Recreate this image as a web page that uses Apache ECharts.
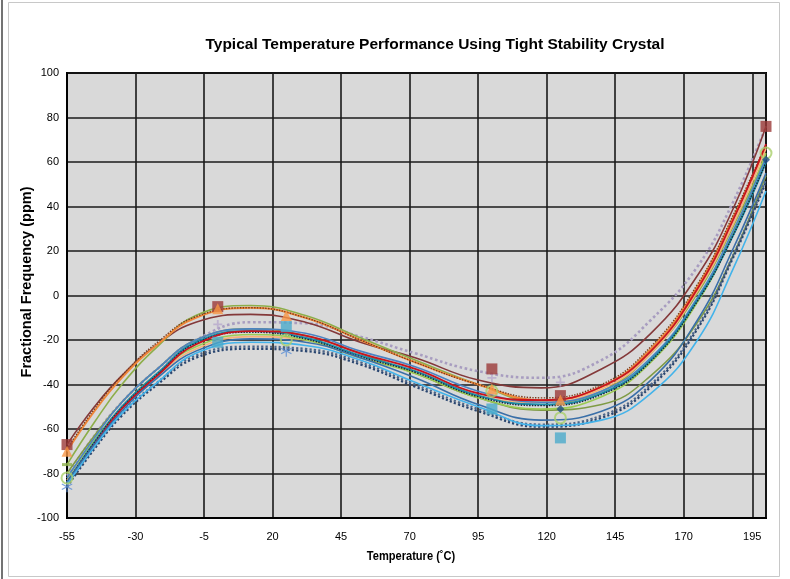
<!DOCTYPE html>
<html>
<head>
<meta charset="utf-8">
<script src="https://cdn.jsdelivr.net/npm/echarts@6/dist/echarts.min.js"></script>
<style>
html,body{margin:0;padding:0;background:#fff;}
#chart{width:790px;height:579px;}
</style>
</head>
<body>
<div id="chart"></div>
<script>
// ---- data ----
const temps = [-55, -45, -35, -22, -8, 12, 32, 52, 72, 95, 118, 140, 158, 175, 188, 200];
const xTickLabels = ['-55','-30','-5','20','45','70','95','120','145','170','195'];
const yTickLabels = ['-100','-80','-60','-40','-20','0','20','40','60','80','100'];

// trend curves (ppm at each temperature in temps)
const brownCurve       = [-67, -50, -36, -22, -12, -8.5, -12, -21, -28, -38, -41.5, -33, -17, 9, 39, 76];
const orangeCurve      = [-70, -52, -37, -22, -10, -5.5, -10, -20, -30, -40, -47, -41, -24, 4, 35, 67];
const orangeDotCurve   = [-69, -51, -36, -21, -9.5, -5.5, -10, -20, -30, -40, -46, -40, -23, 5, 36, 68];
const oliveTopCurve    = [-76, -57, -40, -23, -9, -4.5, -9, -19, -29, -40, -48, -43, -26, 1, 31, 63];
const lavenderCurve    = [-81, -63, -48, -33, -20, -12, -12.5, -18.5, -26, -34, -37, -29, -11, 13, 42, 76];
const redCurve         = [-85, -67, -51, -36, -22, -16, -18, -26, -33, -44, -47, -41, -25, 3, 34, 68];
const blueCurve        = [-82, -64, -48, -33, -20, -15, -17, -25, -32, -43, -48, -43, -28, -1, 29, 62];
const tealCurve        = [-84, -66, -50, -35, -21, -16, -19, -27, -34, -45, -49, -44, -29, -2, 27, 60];
const tealDotCurve     = [-84, -66, -50.5, -35.5, -21.5, -16.5, -19.5, -27.5, -34.5, -45.5, -49.5, -44.5, -29.5, -2.5, 27, 60];
const lightGreenCurve  = [-82, -65, -50, -35, -23, -17.5, -20, -28, -35, -46, -51, -45.5, -30, -3, 28, 64];
const lightOrangeCurve = [-83, -66, -51, -36, -24, -18.5, -20, -28, -34, -45, -48, -42, -26, 2, 32, 66];
const oliveDarkCurve   = [-80, -63, -48, -33, -20, -15, -18, -26, -35, -46, -51.5, -49, -36, -12, 18, 54];
const lightBlueCurve   = [-85, -68, -53, -39, -26, -21, -22.5, -29, -39, -50, -58.5, -56, -44, -20, 12, 47];
const darkBlueDotCurve = [-86, -69, -54, -40, -28, -24, -25, -31, -41, -52, -59, -55, -41, -15, 17, 51];
const slateDotCurve    = [-85, -68, -53, -39, -27, -23, -24, -30, -40, -51, -58, -54, -40, -14, 18, 52];
const steelBlueCurve   = [-84, -67, -52, -37, -25, -19.5, -21, -28, -37, -49, -56, -52, -38, -11, 21, 55];

// measured points (ppm at each temperature in measTemps; null = not visible)
const measTemps     = [-55, 0, 25, 100, 125, 200];
const brownMeas     = [-67, -5, null, -33, -45, 76];
const orangeMeas    = [-70, -6, -9, -42, -47, null];
const lightBlueMeas = [null, -21, -14, -51, -64, null];
const greenMeas     = [-82, null, -20, -43, -55, 64];
const asteriskMeas  = [-86, null, -25, null, null, null];
const diamondMeas   = [null, null, null, null, -51, 61];
const greenDashMeas = [-76, null, null, null, null, null];
const lavenderMeas  = [null, -13, null, -37, -39, null];

// ---- chart ----
const pair = (xs, ys) => xs.map((x, i) => [x, ys[i]]).filter(p => p[1] !== null);

function curve(vals, color, width, type, z) {
  return {
    type: 'line', smooth: 0.45, showSymbol: false, silent: true,
    data: pair(temps, vals), z: z || 3,
    lineStyle: { color: color, width: width, type: type || 'solid' }
  };
}
function marks(vals, symbol, size, color, border) {
  return {
    type: 'scatter', data: pair(measTemps, vals), symbol: symbol, symbolSize: size, z: 10,
    itemStyle: border ? { color: 'rgba(0,0,0,0)', borderColor: color, borderWidth: border } : { color: color }
  };
}

const asteriskPath = 'path://M9,0h2v7.6l6.6-3.8l1,1.7L12,9.3l6.6,3.8l-1,1.7L11,11v8H9v-8l-6.6,3.8l-1-1.7L8,9.3L1.4,5.5l1-1.7L9,7.6z';
const plusPath = 'path://M8,0h4v8h8v4h-8v8h-4v-8H0v-4h8z';

const series = [
  curve(lavenderCurve, '#A89DC0', 2.6, 'dotted', 2),
  curve(brownCurve, '#84393A', 1.6, 'solid', 3),
  curve(oliveTopCurve, '#8DAE4A', 1.6),
  curve(orangeCurve, '#F0883A', 2),
  curve(orangeDotCurve, '#7A3A1A', 1.4, 'dotted'),
  curve(oliveDarkCurve, '#7F9B45', 1.6),
  curve(lightOrangeCurve, '#F6B27A', 1.6),
  curve(lightGreenCurve, '#9CCB52', 1.6),
  curve(blueCurve, '#4C83C3', 1.6),
  curve(tealCurve, '#1E8CA8', 2),
  curve(tealDotCurve, '#14243A', 1.4, 'dotted'),
  curve(redCurve, '#C8141E', 1.8),
  curve(steelBlueCurve, '#3A6FA8', 1.6),
  curve(slateDotCurve, '#4E6688', 2.2, 'dotted'),
  curve(darkBlueDotCurve, '#2A4670', 2.2, 'dotted'),
  curve(lightBlueCurve, '#43B3EA', 1.6),
  marks(lavenderMeas, plusPath, 9, '#B7A9CC'),
  marks(greenDashMeas, 'rect', [10, 3], '#8DB04A'),
  marks(asteriskMeas, asteriskPath, 11, '#5B8FD6'),
  marks(greenMeas, 'circle', 11, '#A9CF6A', 2),
  marks(lightBlueMeas, 'rect', 11, '#4BAACB'),
  marks(diamondMeas, 'diamond', 8, '#1F4E86'),
  marks(brownMeas, 'rect', 11, '#9B3A38'),
  marks(orangeMeas, 'triangle', 11, '#F79646')
];

const FONT = '"Liberation Sans", Arial, sans-serif';

const chart = echarts.init(document.getElementById('chart'));
chart.setOption({
  animation: false,
  backgroundColor: '#ffffff',
  grid: { left: 67, top: 73, width: 699, height: 445, show: true, backgroundColor: '#D9D9D9', borderColor: '#000', borderWidth: 2 },
  xAxis: {
    type: 'value', min: -55, max: 200, interval: 25,
    axisLine: { show: true, onZero: false, lineStyle: { color: '#000', width: 2 } },
    axisTick: { show: false },
    axisLabel: {
      showMaxLabel: false, margin: 13, fontFamily: FONT, fontSize: 11, color: '#000',
      formatter: v => { const i = xTickLabels.indexOf(String(v)); return i >= 0 ? xTickLabels[i] : ''; }
    },
    splitLine: { show: true, lineStyle: { color: '#1a1a1a', width: 1.6 } }
  },
  yAxis: {
    type: 'value', min: -100, max: 100, interval: 20,
    axisLine: { show: true, onZero: false, lineStyle: { color: '#000', width: 2 } },
    axisTick: { show: false },
    axisLabel: {
      margin: 8, fontFamily: FONT, fontSize: 11, color: '#000',
      formatter: v => { const i = yTickLabels.indexOf(String(v)); return i >= 0 ? yTickLabels[i] : ''; }
    },
    splitLine: { show: true, lineStyle: { color: '#1a1a1a', width: 1.6 } }
  },
  graphic: [
    { type: 'rect', shape: { x: 8.5, y: 2.5, width: 771, height: 574 }, style: { fill: 'none', stroke: '#C8C8C8', lineWidth: 1 }, z: -1 },
    { type: 'line', shape: { x1: 2, y1: 0, x2: 2, y2: 579 }, style: { stroke: '#444', lineWidth: 1.5 } },
    { type: 'text', x: 435, y: 45, style: { text: 'Typical Temperature Performance Using Tight Stability Crystal', fontFamily: FONT, fontSize: 15.5, fontWeight: 'bold', fill: '#000', textAlign: 'center', textVerticalAlign: 'middle' } },
    { type: 'text', x: 411, y: 556, scaleX: 0.82, style: { text: 'Temperature (\u02daC)', fontFamily: FONT, fontSize: 13.5, fontWeight: 'bold', fill: '#000', textAlign: 'center', textVerticalAlign: 'middle' } },
    { type: 'text', x: 27, y: 282, rotation: Math.PI / 2, style: { text: 'Fractional Frequency (ppm)', fontFamily: FONT, fontSize: 14.5, fontWeight: 'bold', fill: '#000', textAlign: 'center', textVerticalAlign: 'middle' } }
  ],
  series: series
});
</script>
</body>
</html>
